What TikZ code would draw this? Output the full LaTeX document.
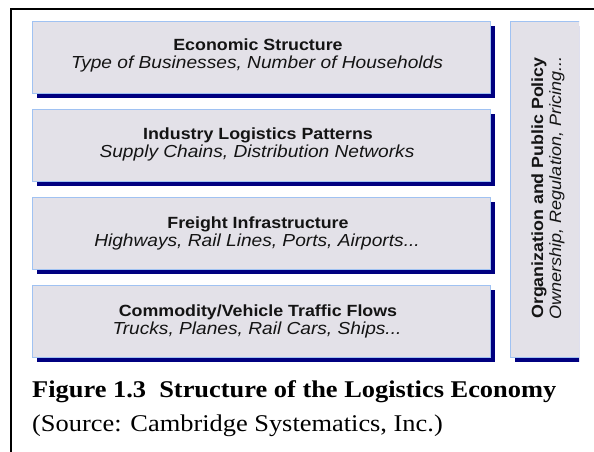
\documentclass[tikz,border=0pt]{standalone}
\usepackage{fontspec}
\usetikzlibrary{shadows}
\newfontfamily\boxfont{Liberation Sans}[FakeStretch=1.1]
\newfontfamily\capfont{Liberation Serif}[FakeStretch=1.1]
\definecolor{boxfill}{HTML}{E3E1E8}
\definecolor{boxedge}{HTML}{A0C2F2}
\definecolor{navyshadow}{HTML}{000080}
\begin{document}
\begin{tikzpicture}[x=1pt,y=-1pt,
  panel/.style={rectangle, fill=boxfill, draw=boxedge, line width=1pt, inner sep=0pt,
    anchor=north west,
    drop shadow={shadow xshift=4.5pt, shadow yshift=-4.5pt, fill=navyshadow, opacity=1}},
  wide/.style={panel, minimum width=458pt, minimum height=72pt},
  head/.style={font=\boxfont\bfseries\fontsize{16.2}{18}\selectfont, inner sep=0pt, anchor=base, text=black!92},
  sub/.style={font=\boxfont\itshape\fontsize{17.4}{18}\selectfont, inner sep=0pt, anchor=base, text=black!92},
  subrot/.style={font=\boxfont\itshape\fontsize{16.4}{18}\selectfont, inner sep=0pt, anchor=base, text=black!92},
  capbold/.style={font=\capfont\bfseries\fontsize{24}{28}\selectfont, inner sep=0pt, anchor=base west},
  capreg/.style={font=\capfont\fontsize{24}{28}\selectfont, inner sep=0pt, anchor=base west},
  frame/.style={line width=2pt, draw=black}]
\useasboundingbox (0,0) rectangle (594,452);
\fill[white] (0,0) rectangle (594,452);

% outer frame
\coordinate (fr) at (594,9);
\coordinate (fc) at (11,9);
\coordinate (fb) at (11,452);
\draw[frame] (fr) -- (fc) -- (fb);

% stacked boxes
\node[wide] (b1) at (32,21) {};
\node[wide] (b2) at (32,109) {};
\node[wide] (b3) at (32,197) {};
\node[wide] (b4) at (32,285) {};

% tall side box (cut at the right edge)
\begin{scope}
  \clip (0,0) rectangle (579,452);
  \node[panel, minimum width=80pt, minimum height=336pt] (side) at (510,21) {};
\end{scope}

% texts of the stacked boxes
\node[head] (h1) at (258,51) {Economic Structure};
\node[sub]  (s1) at (257,69) {Type of Businesses, Number of Households};
\node[head] (h2) at (258,139) {Industry Logistics Patterns};
\node[sub]  (s2) at (257,157) {Supply Chains, Distribution Networks};
\node[head] (h3) at (258,228) {Freight Infrastructure};
\node[sub]  (s3) at (257,246) {Highways, Rail Lines, Ports, Airports...};
\node[head] (h4) at (258,316) {Commodity/Vehicle Traffic Flows};
\node[sub]  (s4) at (257,334) {Trucks, Planes, Rail Cars, Ships...};

% rotated side texts
\node[head, rotate=90] (hp) at (543,188) {Organization and Public Policy};
\node[subrot, rotate=90] (sp) at (561,188) {Ownership, Regulation, Pricing...};

% caption
\node[capbold] (c1) at (32,397) {Figure 1.3\ \ Structure of the Logistics Economy};
\node[capreg]  (c2) at (32,431) {(Source: Cambridge Systematics, Inc.)};
\end{tikzpicture}
\end{document}
